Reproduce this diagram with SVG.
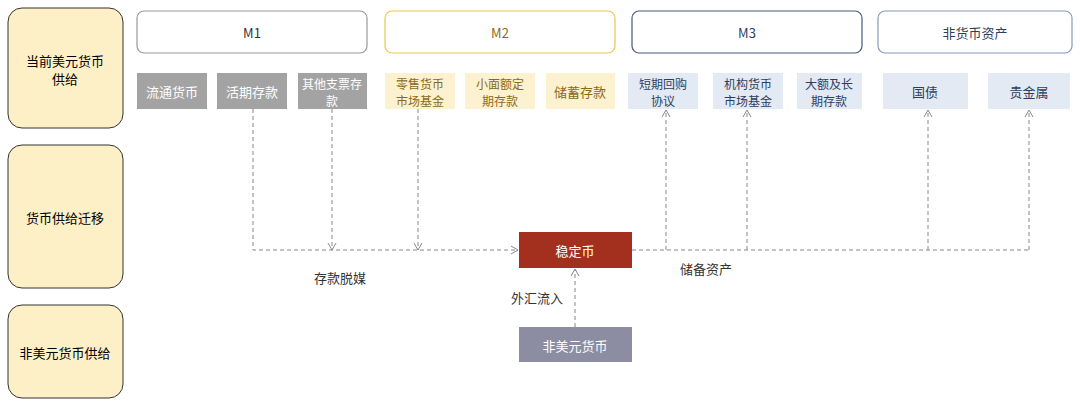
<svg xmlns="http://www.w3.org/2000/svg" width="1080" height="405" viewBox="0 0 1080 405">
<style>
text{font-family:"Noto Sans CJK SC","Liberation Sans",sans-serif;font-size:13px;text-anchor:middle;dominant-baseline:central}
.s{font-size:12px}
.lane{fill:#fdefc6;stroke:#333;stroke-width:1}
.hd{fill:#fff;stroke-width:1.2}
.g{fill:#a3a3a3}.gt{fill:#fff}
.y{fill:#fdf2cf}.yt{fill:#8a6a1a}
.b{fill:#e3eaf4}.bt{fill:#2f3d5c}
.c{fill:none;stroke:#888;stroke-width:1;stroke-dasharray:4 3}
</style>
<defs><marker id="a" markerWidth="10" markerHeight="10" refX="8" refY="5" orient="auto" markerUnits="userSpaceOnUse"><path d="M1,1 L8,5 L1,9" fill="none" stroke="#888"/></marker></defs>
<rect width="1080" height="405" fill="#fff"/>
<g id="lane1"><rect class="lane" x="8" y="8" width="115" height="120" rx="14"/><text x="65" y="60">当前美元货币</text><text x="65" y="78">供给</text></g>
<g id="lane2"><rect class="lane" x="8" y="145" width="115" height="143" rx="14"/><text x="65" y="217">货币供给迁移</text></g>
<g id="lane3"><rect class="lane" x="8" y="305" width="115" height="93" rx="14"/><text x="65" y="352">非美元货币供给</text></g>
<g id="M1"><rect class="hd" x="137" y="11" width="230" height="42" rx="7" stroke="#999"/><text x="252" y="32" fill="#333">M1</text></g>
<g id="M2"><rect class="hd" x="385" y="11" width="230" height="42" rx="7" stroke="#e8c84a"/><text x="500" y="32" fill="#8a6a1a">M2</text></g>
<g id="M3"><rect class="hd" x="632" y="11" width="230" height="42" rx="7" stroke="#4a5878"/><text x="747" y="32" fill="#2f3d5c">M3</text></g>
<g id="non"><rect class="hd" x="878" y="11" width="194" height="42" rx="7" stroke="#8a9ab8"/><text x="975" y="32" fill="#2f3d5c">非货币资产</text></g>
<g id="n1"><rect class="g" x="137" y="73" width="70" height="36"/><text class="gt" x="172" y="91">流通货币</text></g>
<g id="n2"><rect class="g" x="217" y="73" width="70" height="36"/><text class="gt" x="252" y="91">活期存款</text></g>
<g id="n3"><rect class="g" x="298" y="73" width="69" height="36"/><text class="gt s" x="332" y="83">其他支票存</text><text class="gt s" x="332" y="100">款</text></g>
<g id="n4"><rect class="y" x="385" y="73" width="70" height="36"/><text class="yt s" x="420" y="83">零售货币</text><text class="yt s" x="420" y="100">市场基金</text></g>
<g id="n5"><rect class="y" x="465" y="73" width="70" height="36"/><text class="yt s" x="500" y="83">小面额定</text><text class="yt s" x="500" y="100">期存款</text></g>
<g id="n6"><rect class="y" x="546" y="73" width="69" height="36"/><text class="yt" x="580" y="91">储蓄存款</text></g>
<g id="n7"><rect class="b" x="628" y="73" width="70" height="36"/><text class="bt s" x="663" y="83">短期回购</text><text class="bt s" x="663" y="100">协议</text></g>
<g id="n8"><rect class="b" x="713" y="73" width="70" height="36"/><text class="bt s" x="748" y="83">机构货币</text><text class="bt s" x="748" y="100">市场基金</text></g>
<g id="n9"><rect class="b" x="797" y="73" width="65" height="36"/><text class="bt s" x="829" y="83">大额及长</text><text class="bt s" x="829" y="100">期存款</text></g>
<g id="n10"><rect class="b" x="883" y="73" width="85" height="36"/><text class="bt" x="925" y="91">国债</text></g>
<g id="n11"><rect class="b" x="988" y="73" width="82" height="36"/><text class="bt" x="1029" y="91">贵金属</text></g>
<g id="stable"><rect x="519" y="232" width="113" height="36" fill="#a3301f"/><text x="575" y="250" fill="#fff">稳定币</text></g>
<g id="nonusd"><rect x="519" y="327" width="113" height="35" fill="#8c8ca2"/><text x="575" y="345" fill="#fff">非美元货币</text></g>
<g id="connectors">
<path class="c" d="M253,109 V250 H518" marker-end="url(#a)"/>
<path class="c" d="M332,109 V250" marker-end="url(#a)"/>
<path class="c" d="M418,109 V250" marker-end="url(#a)"/>
<path class="c" d="M632,250 H1029"/>
<path class="c" d="M666,250 V110" marker-end="url(#a)"/>
<path class="c" d="M747,250 V110" marker-end="url(#a)"/>
<path class="c" d="M928,250 V110" marker-end="url(#a)"/>
<path class="c" d="M1029,250 V110" marker-end="url(#a)"/>
<path class="c" d="M575,327 V269" marker-end="url(#a)"/>
</g>
<text x="340" y="277" fill="#333">存款脱媒</text>
<text x="537" y="297" fill="#333">外汇流入</text>
<text x="706" y="268" fill="#333">储备资产</text>
</svg>
